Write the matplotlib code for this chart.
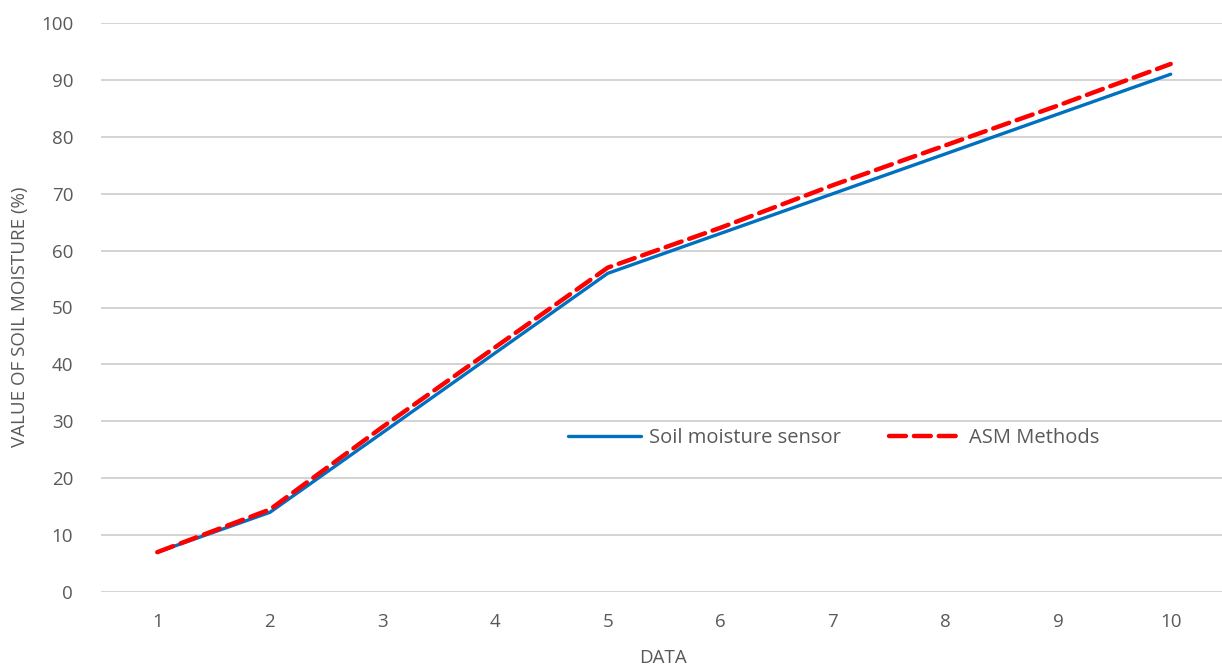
import matplotlib
matplotlib.use('Agg')
import matplotlib.pyplot as plt

data_index = [1, 2, 3, 4, 5, 6, 7, 8, 9, 10]
sensor = [7, 14, 28, 42, 56, 63, 70, 77, 84, 91]
asm = [7, 14.5, 29, 43, 57, 64, 71.5, 78.5, 85.5, 92.8]

plt.rcParams['font.family'] = ['Open Sans', 'DejaVu Sans']
grey = '#595959'

fig = plt.figure(figsize=(12.22, 6.7), dpi=100)
ax = fig.add_axes([101 / 1222, 78 / 670, 1126 / 1222, 569 / 670])

ax.plot(data_index, sensor, color='#0070C0', lw=2.4, label='Soil moisture sensor',
        solid_capstyle='round', zorder=3)
ax.plot(data_index, asm, color='#FF0000', lw=3.2, ls=(0, (3.8, 1.8)), label='ASM Methods',
        dash_capstyle='round', zorder=4)

ax.set_xlim(0.5, 10.5)
ax.set_ylim(0, 100)
ax.set_xticks(data_index)
ax.set_yticks(range(0, 101, 10))
ax.grid(axis='y', color='#d0d0d0', lw=1.3)
ax.set_axisbelow(True)
for s in ax.spines.values():
    s.set_visible(False)
ax.tick_params(length=0, labelsize=13.5, colors=grey, pad=15)
ax.tick_params(axis='y', pad=20)

ax.set_xlabel('DATA', fontsize=13.5, color=grey)
ax.set_ylabel('VALUE OF SOIL MOISTURE (%)', fontsize=13.5, color=grey)
ax.xaxis.set_label_coords((663 - 101) / 1126, -0.1)
ax.yaxis.set_label_coords(-(101 - 29) / 1126, (592 - 317) / 569)

leg = ax.legend(loc='center', bbox_to_anchor=((834 - 101) / 1126, (592 - 438) / 569),
                ncol=2, frameon=False, handlelength=3.6, columnspacing=2.4,
                fontsize=14.5, handletextpad=0.4)
for t in leg.get_texts():
    t.set_color(grey)

fig.savefig('out.png', dpi=100)
